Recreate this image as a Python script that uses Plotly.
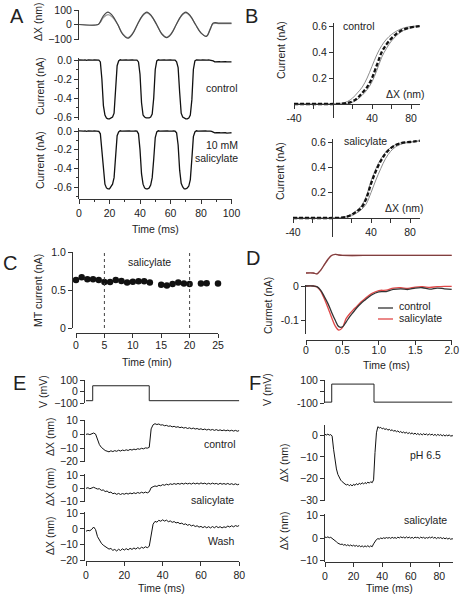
import plotly.graph_objects as go

W, H = 468, 599
FONT = "Liberation Sans, Arial, Helvetica, sans-serif"
INK = "#222222"
AX = "#333333"
FS = 10.5

# ---------------- Panel A data ----------------
a_dx_t = [0, 12.6, 14, 16, 19, 22, 25.4, 28.6, 32, 35, 38.3, 41.5, 44.5, 47.5, 50.9, 54.2, 57.5, 60.5,
          63.8, 67, 70, 73, 76.4, 79.9, 83.5, 86, 88, 92, 100]
a_dx_dark = [0, 0, 20, 60, 85, 60, 0, -67, -95, -67, 0, 60, 85, 60, 0, -64, -90, -64,
             0, 60, 85, 60, 0, -58, -82, -35, 10, 10, 10]
a_dx_gray = [0, 0, 16, 48, 68, 50, 0, -63, -90, -63, 0, 57, 80, 57, 0, -62, -88, -62,
             0, 57, 80, 57, 0, -56, -80, -30, 6, 6, 6]

a_time = list(range(0, 101))
a_cur_control = ([0, -0.003, 0.002, -0.002, 0.001, -0.003, 0.002, -0.001, 0.002, -0.002, 0.001, -0.002, 0.002, -0.001]
                 + [-0.02, -0.2, -0.48, -0.58, -0.61, -0.62, -0.62, -0.61, -0.6, -0.56, -0.35, -0.06, -0.01]
                 + [0.002, -0.002, 0.001, -0.002, 0.002, -0.001, 0.002, -0.002, 0.001, -0.002, 0.002, -0.001]
                 + [-0.02, -0.15, -0.45, -0.58, -0.6, -0.61, -0.61, -0.61, -0.6, -0.57, -0.4, -0.1, -0.01]
                 + [0.002, -0.002, 0.001, -0.002, 0.002, -0.001, 0.002, -0.002, 0.001, -0.002, 0.002, -0.001]
                 + [-0.02, -0.08, -0.34, -0.56, -0.6, -0.61, -0.62, -0.62, -0.61, -0.58, -0.42, -0.1, -0.01]
                 + [0.002, -0.002, 0.001, -0.002, 0.002, -0.001, 0.002, -0.002, 0.001, -0.002, 0.0]
                 + [-0.01, -0.02, -0.018, -0.02, -0.017, -0.02, -0.018, -0.021, -0.017, -0.02, -0.018, -0.02, -0.019])
a_cur_salicylate = ([0.001, -0.002, 0.002, -0.001, 0.001, -0.003, 0.002, -0.001, 0.001, -0.002, 0.002, -0.001, 0.001, -0.004]
                    + [-0.03, -0.22, -0.47, -0.57, -0.61, -0.62, -0.62, -0.6, -0.57, -0.5, -0.28, -0.05, -0.01]
                    + [0.002, -0.001, 0.001, -0.002, 0.002, -0.001, 0.001, -0.002, 0.002, -0.001, 0.001, -0.002]
                    + [-0.03, -0.2, -0.46, -0.57, -0.61, -0.62, -0.62, -0.61, -0.58, -0.5, -0.3, -0.07, -0.01]
                    + [0.002, -0.001, 0.001, -0.002, 0.002, -0.001, 0.001, -0.002, 0.002, -0.001, 0.001, -0.002]
                    + [-0.02, -0.15, -0.42, -0.56, -0.6, -0.62, -0.62, -0.61, -0.59, -0.52, -0.3, -0.06, -0.01]
                    + [0.002, -0.001, 0.001, -0.002, 0.002, -0.001, 0.001, -0.002, 0.002, -0.001, -0.004]
                    + [-0.012, -0.02, -0.018, -0.022, -0.019, -0.021, -0.018, -0.02, -0.019, -0.022, -0.018, -0.02, -0.019])

# ---------------- Panel B data ----------------
b_dx = [-40, -30, -20, -10, 0, 10, 15, 20, 25, 30, 35, 40, 45, 50, 55, 60, 65, 70, 75, 80, 85, 90]
b_ctrl_fit = [0, 0, 0, 0, 0, 0.003, 0.008, 0.02, 0.045, 0.085, 0.13, 0.2, 0.3, 0.4, 0.46, 0.505, 0.54, 0.565, 0.58, 0.59, 0.595, 0.6]
b_ctrl_up = [0, 0, 0, 0, 0.002, 0.008, 0.02, 0.045, 0.085, 0.13, 0.2, 0.29, 0.38, 0.45, 0.5, 0.535, 0.56, 0.578, 0.59, 0.595, 0.6, 0.6]
b_ctrl_down = [0, 0, 0, 0, 0, 0.001, 0.005, 0.014, 0.035, 0.068, 0.11, 0.17, 0.26, 0.36, 0.43, 0.485, 0.525, 0.555, 0.575, 0.587, 0.594, 0.598]
b_sal_fit = [0, 0, 0, 0, 0, 0.003, 0.01, 0.025, 0.05, 0.08, 0.15, 0.27, 0.37, 0.45, 0.51, 0.55, 0.575, 0.59, 0.597, 0.6, 0.605, 0.61]
b_sal_up = [0, 0, 0, 0, 0.001, 0.005, 0.013, 0.03, 0.058, 0.095, 0.17, 0.29, 0.39, 0.465, 0.52, 0.555, 0.578, 0.592, 0.598, 0.6, 0.605, 0.61]
b_sal_down = [0, 0, 0, 0, 0, 0.002, 0.007, 0.018, 0.038, 0.065, 0.11, 0.2, 0.3, 0.39, 0.47, 0.525, 0.56, 0.58, 0.592, 0.598, 0.603, 0.608]

# ---------------- Panel C data ----------------
c_min = [0, 1, 2, 3, 4, 5, 6, 7, 8, 9, 10, 11, 12, 13, 15, 16, 17, 18, 19, 20, 22, 23, 25]
c_cur = [0.63, 0.667, 0.64, 0.64, 0.63, 0.605, 0.605, 0.63, 0.62, 0.60, 0.61, 0.615, 0.615, 0.60,
         0.57, 0.56, 0.58, 0.60, 0.585, 0.58, 0.585, 0.59, 0.585]
c_bounds = [5, 20]

# ---------------- Panel D data ----------------
d_t = [0, 0.1, 0.15, 0.2, 0.25, 0.3, 0.35, 0.4, 0.45, 0.5, 0.55, 0.6, 0.65, 0.7, 0.75, 0.8,
       0.9, 1.0, 1.1, 1.2, 1.3, 1.4, 1.5, 1.6, 1.7, 1.8, 1.9, 2.0]
d_control = [0, 0, -0.002, -0.012, -0.03, -0.05, -0.075, -0.098, -0.117, -0.118, -0.104, -0.088, -0.075, -0.062,
             -0.051, -0.042, -0.026, -0.017, -0.016, -0.01, -0.008, -0.01, -0.006, -0.005, -0.009, -0.006, -0.008, -0.01]
d_salicylate = [0, 0, -0.003, -0.014, -0.036, -0.062, -0.09, -0.115, -0.127, -0.12, -0.094, -0.08, -0.068, -0.058,
                -0.047, -0.038, -0.022, -0.013, -0.012, -0.006, -0.005, -0.007, -0.003, -0.002, -0.004, -0.002, -0.001, -0.001]
d_stim_t = [0, 0.1, 0.15, 0.2, 0.25, 0.3, 0.35, 0.4, 0.45, 0.5, 1.0, 2.0]
d_stim = [0, 0, -0.05, 0.15, 0.45, 0.75, 0.97, 1.04, 1.0, 0.98, 0.98, 0.98]

# ---------------- Panel E data ----------------
e_time = list(range(0, 81))
e_v_t = [0, 3.5, 3.5, 33, 33, 80]
e_v = [-80, -80, 50, 50, -80, -80]
e_control = [0, 0.3, -0.2, 0.4, 1.0, 0.2, -4.0, -7.5, -9.5, -10.8,
             -11.8, -12.3, -12.8, -12.0, -12.6, -11.9, -12.4, -11.6, -12.2, -11.5,
             -11.9, -11.3, -11.8, -11.0, -11.5, -10.8, -11.2, -10.5, -10.9, -10.2,
             -10.6, -9.9, -10.1, -9.5, 4.0, 7.0, 7.8, 7.2, 7.6, 6.8,
             7.0, 6.3, 6.6, 5.9, 6.2, 5.5, 5.9, 5.2, 5.6, 4.9,
             5.3, 4.6, 5.0, 4.3, 4.8, 4.1, 4.6, 3.9, 4.3, 3.6,
             4.1, 3.4, 3.9, 3.2, 3.7, 3.1, 3.6, 2.9, 3.5, 2.8,
             3.3, 2.7, 3.2, 2.6, 3.1, 2.5, 3.0, 2.4, 2.9, 2.3,
             2.8]
e_salicylate = [0, 0.5, -0.3, 0.4, 0.8, 0.1, -0.5, -0.3, -1.5, -1.2,
                -2.4, -2.0, -3.2, -2.8, -4.0, -3.6, -4.5, -3.8, -4.6, -3.9,
                -4.4, -3.7, -4.3, -3.5, -4.1, -3.3, -3.9, -3.1, -3.7, -2.9,
                -3.5, -2.8, -3.4, -2.6, 0.5, 1.2, 1.8, 1.4, 2.3, 1.9,
                2.8, 2.3, 3.1, 2.6, 3.4, 2.9, 3.6, 3.0, 3.7, 3.1,
                3.8, 3.2, 3.9, 3.3, 3.8, 3.2, 4.0, 3.3, 3.9, 3.2,
                4.1, 3.4, 3.9, 3.1, 3.8, 3.2, 3.9, 3.3, 3.7, 3.0,
                3.8, 3.1, 3.6, 3.0, 3.7, 2.9, 3.5, 2.8, 3.4, 2.7,
                3.2]
e_wash = [-1.5, -1.0, -1.2, -0.3, 1.2, -0.5, -5.0, -7.5, -9.2, -10.5,
          -11.5, -12.3, -13.0, -12.6, -13.8, -13.2, -14.2, -13.1, -13.9, -12.8,
          -13.6, -12.7, -13.5, -12.5, -13.2, -12.3, -13.0, -12.0, -12.8, -11.8,
          -12.4, -11.5, -12.1, -11.2, -5.0, 3.0, 4.8, 4.3, 5.5, 4.9,
          5.8, 5.0, 5.6, 4.6, 5.1, 4.2, 4.7, 3.8, 4.2, 3.3,
          3.7, 2.8, 3.2, 2.3, 2.8, 1.9, 2.4, 1.5, 2.0, 1.1,
          1.6, 0.8, 1.5, 0.7, 1.4, 0.6, 1.5, 0.7, 1.6, 0.8,
          1.4, 0.6, 1.3, 0.9, 1.8, 1.2, 2.0, 1.3, 2.1, 1.6,
          2.2]

# ---------------- Panel F data ----------------
f_time = list(range(0, 91))
f_v_t = [0, 4.7, 4.7, 34.3, 34.3, 89]
f_v = [-90, -90, 65, 65, -90, -90]
f_ph65 = [0.3, 0.0, 0.4, -0.1, 0.2, -0.5, -6.5, -11.5, -15.5, -18.0,
          -19.6, -20.6, -21.3, -22.0, -22.4, -22.8, -22.5, -23.2, -22.6, -23.3,
          -22.5, -23.0, -22.2, -22.8, -22.0, -22.5, -21.8, -22.4, -21.7, -22.2,
          -21.5, -22.0, -21.3, -21.8, -20.5, -8.0, 1.0, 3.8, 3.2, 3.5,
          2.8, 3.1, 2.5, 2.9, 2.2, 2.6, 2.0, 2.4, 1.7, 2.1,
          1.5, 1.9, 1.2, 1.6, 1.0, 1.4, 0.8, 1.3, 0.6, 1.1,
          0.5, 1.0, 0.3, 0.9, 0.2, 0.7, 0.1, 0.6, 0.0, 0.6,
          0.1, 0.5, -0.1, 0.5, 0.0, 0.4, -0.2, 0.3, -0.3, 0.3,
          -0.2, 0.2, -0.4, 0.1, -0.5, 0.0, -0.4, 0.1, -0.6, -0.2,
          -0.8]
f_salicylate = [0.5, 0.3, 0.6, 0.2, 0.4, 0.0, -0.6, -1.2, -1.6, -2.2,
                -2.4, -2.8, -2.6, -3.1, -2.8, -3.3, -2.9, -3.4, -3.0, -3.5,
                -3.1, -3.6, -3.2, -3.7, -3.3, -3.8, -3.4, -3.9, -3.4, -3.8,
                -3.3, -3.9, -3.4, -3.8, -2.5, -1.2, -0.6, -0.2, -0.4, 0.1,
                -0.2, 0.2, -0.1, 0.3, 0.0, 0.3, -0.1, 0.4, 0.0, 0.3,
                -0.1, 0.5, 0.1, 0.6, 0.2, 0.5, 0.0, 0.6, 0.1, 0.5,
                0.0, 0.4, -0.1, 0.5, 0.2, 0.4, -0.1, 0.5, 0.1, 0.4,
                -0.1, 0.3, 0.0, 0.5, 0.1, 0.6, 0.0, 0.4, -0.2, 0.3,
                0.0, 0.3, -0.2, 0.2, -0.3, 0.1, -0.4, 0.0, -0.5, -0.2,
                -0.6]

# ---------------- helpers ----------------
BASE = dict(showline=True, linecolor=AX, linewidth=1, ticks="outside", ticklen=4, tickwidth=1,
            tickcolor=AX, showgrid=False, zeroline=False, fixedrange=True,
            tickfont=dict(family=FONT, size=FS, color=INK), automargin=False)


def yax(top, bot, p0, v0, p1, v1, xpos, **kw):
    s = (v1 - v0) / (p1 - p0)
    d = dict(BASE)
    d.update(domain=[1 - bot / H, 1 - top / H], range=[v0 + (bot - p0) * s, v0 + (top - p0) * s],
             anchor="free", position=xpos / W)
    d.update(kw)
    return d


def xax(left, right, p0, v0, p1, v1, ypos, **kw):
    s = (v1 - v0) / (p1 - p0)
    d = dict(BASE)
    d.update(domain=[left / W, right / W], range=[v0 + (left - p0) * s, v0 + (right - p0) * s],
             anchor="free", position=max(0, 1 - ypos / H))
    d.update(kw)
    return d


layout = {}
fig = go.Figure()


def pair(n, xa, ya):
    layout["xaxis" if n == 1 else f"xaxis{n}"] = xa
    layout["yaxis" if n == 1 else f"yaxis{n}"] = ya


def line(n, x, y, color="#111", width=1.2, dash=None, shape="linear"):
    xr, yr = ("x" if n == 1 else f"x{n}"), ("y" if n == 1 else f"y{n}")
    fig.add_trace(go.Scatter(x=x, y=y, xaxis=xr, yaxis=yr, mode="lines",
                             line=dict(color=color, width=width, dash=dash, shape=shape),
                             showlegend=False, hoverinfo="skip"))


MINOR_A = dict(ticks="outside", ticklen=2, tickcolor=AX, tickmode="linear", tick0=0, dtick=0.1)

# Panel A
pair(1, xax(79, 232, 79, 0, 231.5, 100, 41, visible=False),
     yax(10, 39.5, 10, 100, 39, -100, 78, tickvals=[-100, 0, 100]))
pair(2, xax(79, 232, 79, 0, 231.5, 100, 120, visible=False),
     yax(58, 120, 60, 0.0, 117, -0.6, 78, tickvals=[0, -0.2, -0.4, -0.6],
         ticktext=["0.0", "-0.2", "-0.4", "-0.6"], minor=MINOR_A))
pair(3, xax(79, 232, 79, 0, 231.5, 100, 199, tickvals=[0, 20, 40, 60, 80, 100],
            minor=dict(ticks="outside", ticklen=2, tickcolor=AX, tickmode="linear", tick0=0, dtick=10)),
     yax(128, 199, 131, 0.0, 187, -0.6, 78, tickvals=[0, -0.2, -0.4, -0.6],
         ticktext=["0.0", "-0.2", "-0.4", "-0.6"], minor=MINOR_A))
line(1, a_dx_t, a_dx_gray, "#9a9a9a", 1.2, shape="spline")
line(1, a_dx_t, a_dx_dark, "#4a4a4a", 1.2, shape="spline")
line(2, a_time, a_cur_control, "#111", 1.3)
line(3, a_time, a_cur_salicylate, "#111", 1.3)

# Panel B
pair(4, xax(294, 420, 294, -40, 372, 40, 104, tickvals=[-40, -20, 20, 40, 60, 80],
            ticktext=["-40", "", "", "40", "", "80"]),
     yax(23, 118, 26, 0.6, 104, 0, 333, tickvals=[0.2, 0.4, 0.6], ticktext=["0.2", "0.4", "0.6"]))
pair(5, xax(293, 420, 293, -40, 410, 80, 218, tickvals=[-40, -20, 20, 40, 60, 80],
            ticktext=["-40", "", "", "40", "", "80"]),
     yax(139, 237, 142, 0.6, 218, 0, 332, tickvals=[0.2, 0.4, 0.6], ticktext=["0.2", "0.4", "0.6"]))
line(4, b_dx, b_ctrl_up, "#8c8c8c", 1.0, shape="spline")
line(4, b_dx, b_ctrl_down, "#8c8c8c", 1.0, shape="spline")
line(4, b_dx, b_ctrl_fit, "#111", 2.3, "4px,2px", shape="spline")
line(5, b_dx, b_sal_up, "#8c8c8c", 1.0, shape="spline")
line(5, b_dx, b_sal_down, "#8c8c8c", 1.0, shape="spline")
line(5, b_dx, b_sal_fit, "#111", 2.3, "4px,2px", shape="spline")

# Panel C
pair(6, xax(76, 218, 76, 0, 218, 25, 333, tickvals=[0, 5, 10, 15, 20, 25], ticklabelstandoff=-2),
     yax(252, 328, 252, 1.0, 328, 0, 72, tickvals=[0, 0.5, 1.0], ticktext=["0", "0.5", "1.0"]))
fig.add_trace(go.Scatter(x=c_min, y=c_cur, xaxis="x6", yaxis="y6", mode="markers", cliponaxis=False,
                         marker=dict(color="#111", size=6.5), showlegend=False, hoverinfo="skip"))

# Panel D
pair(7, xax(306, 452, 306, 0, 451.7, 2.0, 340, tickvals=[0, 0.5, 1.0, 1.5, 2.0],
            ticktext=["0", "0.5", "1.0", "1.5", "2.0"], ticklabelstandoff=-4),
     yax(285, 334, 286, 0, 320.7, -0.1, 305, tickvals=[0, -0.1], ticktext=["0", "-0.1"]))
pair(8, xax(306, 452, 306, 0, 451.7, 2.0, 280, visible=False),
     yax(252, 277, 255, 1.0, 273, 0, 305, visible=False))
line(8, d_stim_t, d_stim, "#e04848", 1.3, shape="spline")
line(8, d_stim_t, d_stim, "rgba(60,60,60,0.6)", 1.3, shape="spline")
line(7, d_t, d_salicylate, "#e04848", 1.3, shape="spline")
line(7, d_t, d_control, "#333", 1.3, shape="spline")

# Panel E
pair(9, xax(86, 239.3, 86, 0, 239.3, 80, 403, visible=False),
     yax(380, 403, 380, 100, 403, -100, 84, tickvals=[100, 0, -100]))
pair(10, xax(86, 239.3, 86, 0, 239.3, 80, 462, visible=False),
     yax(420, 462, 420.7, 10, 461.7, -20, 84, tickvals=[10, 0, -10, -20]))
pair(11, xax(86, 239.3, 86, 0, 239.3, 80, 502, visible=False),
     yax(474, 502, 475, 10, 501.7, -10, 84, tickvals=[10, 0, -10]))
pair(12, xax(86, 239.3, 86, 0, 239.3, 80, 561, tickvals=[0, 20, 40, 60, 80]),
     yax(512, 561, 513.3, 10, 560, -20, 84, tickvals=[10, 0, -10, -20]))
line(9, e_v_t, e_v, "#222", 1.0)
line(10, e_time, e_control, "#111", 1.0)
line(11, e_time, e_salicylate, "#111", 1.0)
line(12, e_time, e_wash, "#111", 1.0)

# Panel F
pair(13, xax(325, 453, 325, 0, 439.3, 80, 403, visible=False),
     yax(380, 403.3, 380, 100, 403.3, -100, 324, tickvals=[100, 0, -100], ticktext=["100", "", "-100"]))
pair(14, xax(325, 453, 325, 0, 439.3, 80, 501, visible=False),
     yax(425, 501, 435, 0, 500.7, -30, 324, tickvals=[0, -10, -20, -30]))
pair(15, xax(325, 453, 325, 0, 439.3, 80, 562, tickvals=[0, 20, 40, 60, 80]),
     yax(514, 562, 515.7, 10, 560.7, -10, 324, tickvals=[10, 0, -10]))
line(13, f_v_t, f_v, "#222", 1.0)
line(14, f_time, f_ph65, "#111", 1.0)
line(15, f_time, f_salicylate, "#111", 1.0)

# ---------------- annotations ----------------
anns = []


def ann(text, x, y, size=FS, xanchor="center", angle=0):
    anns.append(dict(text=text, x=x / W, y=1 - y / H, xref="paper", yref="paper", showarrow=False,
                     xanchor=xanchor, yanchor="middle", textangle=angle,
                     font=dict(family=FONT, size=size, color=INK)))


for lab, x, y in [("A", 17, 16), ("B", 251, 16), ("C", 10, 263), ("D", 253, 258), ("E", 19, 383), ("F", 255, 383)]:
    ann(lab, x, y, size=20)

# A
ann("ΔX (nm)", 38, 22, angle=-90)
ann("Current (nA)", 40, 86, angle=-90)
ann("Current (nA)", 40, 160, angle=-90)
ann("control", 240, 88, xanchor="right")
ann("10 mM", 240, 145, xanchor="right")
ann("salicylate", 240, 158, xanchor="right")
ann("Time (ms)", 155, 229)
# B
ann("Current (nA)", 281, 50, angle=-90)
ann("Current (nA)", 280, 171, angle=-90)
ann("control", 341, 26, xanchor="left")
ann("ΔX (nm)", 427, 94, xanchor="right")
ann("salicylate", 342, 141, xanchor="left")
ann("ΔX (nm)", 426, 208, xanchor="right")
# C
ann("MT current (nA)", 38, 291, angle=-90)
ann("salicylate", 149, 262)
ann("Time (min)", 147, 362)
# D
ann("Curmet (nA)", 268, 306, angle=-90)
ann("control", 397, 306, xanchor="left")
ann("salicylate", 397, 318, xanchor="left")
ann("Time (ms)", 386, 365)
# E
ann("V (mV)", 43, 392, angle=-90)
ann("ΔX (nm)", 50, 437, angle=-90)
ann("ΔX (nm)", 50, 487, angle=-90)
ann("ΔX (nm)", 50, 536, angle=-90)
ann("control", 238, 444, xanchor="right")
ann("salicylate", 236, 500, xanchor="right")
ann("Wash", 237, 541, xanchor="right")
ann("Time (ms)", 161, 588)
# F
ann("V (mV)", 267, 390, angle=-90)
ann("ΔX (nm)", 284, 463, angle=-90)
ann("ΔX (nm)", 284, 531, angle=-90)
ann("pH 6.5", 425, 455)
ann("salicylate", 425, 520)
ann("Time (ms)", 389, 588)

# ---------------- shapes ----------------
shapes = []
for xb in c_bounds:
    shapes.append(dict(type="line", xref="x6", yref="y6", x0=xb, x1=xb, y0=0, y1=1.0,
                       line=dict(color="#444", width=1, dash="dot")))
shapes.append(dict(type="line", xref="paper", yref="paper", x0=378 / W, x1=393 / W,
                   y0=1 - 308 / H, y1=1 - 308 / H, line=dict(color="#333", width=1.3)))
shapes.append(dict(type="line", xref="paper", yref="paper", x0=378 / W, x1=393 / W,
                   y0=1 - 319 / H, y1=1 - 319 / H, line=dict(color="#e04848", width=1.3)))

fig.update_layout(width=W, height=H, margin=dict(l=0, r=0, t=0, b=0),
                  paper_bgcolor="white", plot_bgcolor="rgba(0,0,0,0)",
                  font=dict(family=FONT, size=FS, color=INK),
                  annotations=anns, shapes=shapes, showlegend=False, **layout)

fig.write_html("out.html", config={"displayModeBar": False, "staticPlot": True},
               post_script="document.body.style.margin='0px';document.body.style.overflow='hidden';")
